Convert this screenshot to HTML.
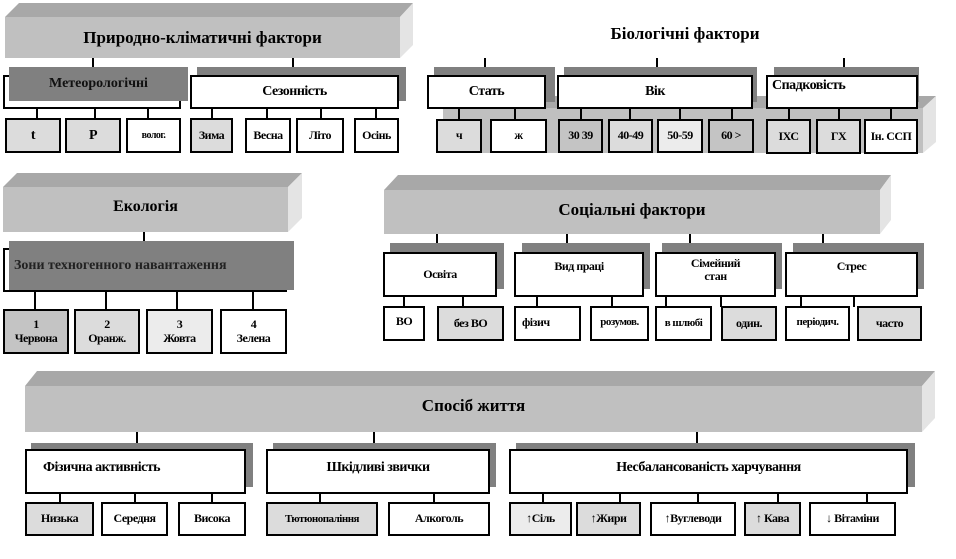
<!DOCTYPE html>
<html><head><meta charset="utf-8"><style>
body{margin:0;width:956px;height:559px;background:#fff;position:relative;overflow:hidden;font-family:"Liberation Serif",serif;font-weight:bold;color:#000}
div{position:absolute;box-sizing:border-box}
.b{border:2px solid #000;background:#fff;display:flex;align-items:center;justify-content:center;font-size:12px;text-align:center;line-height:1.1;letter-spacing:-0.5px}
.g{background:#dcdcdc}.g2{background:#c4c4c4}.g3{background:#ececec}
.sh{background:#808080}
.v{width:2px;background:#000}
.t{font-size:16px;display:flex;align-items:center;justify-content:center}
.m{font-size:14px}
svg{position:absolute;left:0;top:0}
</style></head><body>
<svg width="956" height="559">
<polygon points="5,17 19,3 413,3 400,17" fill="#a8a8a8"/><rect x="5" y="17" width="395" height="41" fill="#c0c0c0"/><polygon points="400,17 413,3 413,45 400,58" fill="#e4e4e4"/>
<polygon points="443,108 455,96 936,96 923,108" fill="#a8a8a8"/><rect x="443" y="108" width="480" height="45" fill="#c0c0c0"/><polygon points="923,108 936,96 936,142 923,153" fill="#e4e4e4"/>
<polygon points="3,187 17,173 302,173 288,187" fill="#a8a8a8"/><rect x="3" y="187" width="285" height="45" fill="#c0c0c0"/><polygon points="288,187 302,173 302,218 288,232" fill="#e4e4e4"/>
<polygon points="384,190 398,175 891,175 880,190" fill="#a8a8a8"/><rect x="384" y="190" width="496" height="44" fill="#c0c0c0"/><polygon points="880,190 891,175 891,220 880,234" fill="#e4e4e4"/>
<polygon points="25,386 37,371 935,371 922,386" fill="#a8a8a8"/><rect x="25" y="386" width="897" height="46" fill="#c0c0c0"/><polygon points="922,386 935,371 935,418 922,432" fill="#e4e4e4"/>
</svg>
<div class="t" style="left:5px;top:17px;width:395px;height:41px;font-size:17px">Природно-кліматичні фактори</div>
<div class="t" style="left:560px;top:20px;width:250px;height:28px;font-size:17px">Біологічні фактори</div>
<div class="t" style="left:3px;top:187px;width:285px;height:40px">Екологія</div>
<div class="t" style="left:384px;top:190px;width:496px;height:40px;font-size:17px">Соціальні фактори</div>
<div class="t" style="left:25px;top:386px;width:897px;height:40px;font-size:17px">Спосіб життя</div>

<div class="v" style="left:92px;top:58px;height:10px"></div><div class="v" style="left:292px;top:58px;height:10px"></div>
<div class="v" style="left:484px;top:58px;height:10px"></div><div class="v" style="left:656px;top:58px;height:10px"></div><div class="v" style="left:843px;top:58px;height:10px"></div>
<div class="v" style="left:143px;top:232px;height:10px"></div>
<div class="v" style="left:436px;top:234px;height:10px"></div><div class="v" style="left:566px;top:234px;height:10px"></div><div class="v" style="left:689px;top:234px;height:10px"></div><div class="v" style="left:822px;top:234px;height:10px"></div>
<div class="v" style="left:136px;top:432px;height:12px"></div><div class="v" style="left:373px;top:432px;height:12px"></div><div class="v" style="left:696px;top:432px;height:12px"></div>

<div class="b" style="left:3px;top:75px;width:178px;height:34px"></div>
<div class="sh t m" style="left:9px;top:67px;width:179px;height:34px;color:#111">Метеорологічні</div>
<div class="sh" style="left:197px;top:67px;width:209px;height:34px"></div>
<div class="b m" style="left:190px;top:75px;width:209px;height:34px">Сезонність</div>
<div class="v" style="left:36px;top:108px;height:11px"></div><div class="v" style="left:94px;top:108px;height:11px"></div><div class="v" style="left:147px;top:108px;height:11px"></div>
<div class="v" style="left:211px;top:108px;height:11px"></div><div class="v" style="left:266px;top:108px;height:11px"></div><div class="v" style="left:320px;top:108px;height:11px"></div><div class="v" style="left:375px;top:108px;height:11px"></div>
<div class="b g" style="left:5px;top:118px;width:56px;height:35px;font-size:14px">t</div>
<div class="b g" style="left:65px;top:118px;width:56px;height:35px;font-size:14px">P</div>
<div class="b" style="left:126px;top:118px;width:55px;height:35px;font-size:10px">волог.</div>
<div class="b g" style="left:190px;top:118px;width:43px;height:35px">Зима</div>
<div class="b" style="left:245px;top:118px;width:46px;height:35px">Весна</div>
<div class="b" style="left:296px;top:118px;width:48px;height:35px">Літо</div>
<div class="b" style="left:354px;top:118px;width:45px;height:35px">Осінь</div>

<div class="sh" style="left:434px;top:67px;width:121px;height:35px"></div>
<div class="b m" style="left:427px;top:75px;width:119px;height:34px">Стать</div>
<div class="sh" style="left:564px;top:67px;width:193px;height:35px"></div>
<div class="b m" style="left:557px;top:75px;width:196px;height:34px">Вік</div>
<div class="sh" style="left:774px;top:67px;width:145px;height:35px"></div>
<div class="b m" style="left:766px;top:75px;width:152px;height:34px;align-items:flex-start;justify-content:flex-start;padding:1px 4px">Спадковість</div>
<div class="v" style="left:458px;top:108px;height:11px"></div><div class="v" style="left:514px;top:108px;height:11px"></div>
<div class="v" style="left:580px;top:108px;height:11px"></div><div class="v" style="left:629px;top:108px;height:11px"></div><div class="v" style="left:679px;top:108px;height:11px"></div><div class="v" style="left:731px;top:108px;height:11px"></div>
<div class="v" style="left:788px;top:108px;height:11px"></div><div class="v" style="left:838px;top:108px;height:11px"></div><div class="v" style="left:890px;top:108px;height:11px"></div>
<div class="b g" style="left:436px;top:119px;width:46px;height:34px">ч</div>
<div class="b" style="left:490px;top:119px;width:57px;height:34px">ж</div>
<div class="b g2" style="left:558px;top:119px;width:45px;height:34px">30 39</div>
<div class="b g" style="left:608px;top:119px;width:45px;height:34px">40-49</div>
<div class="b g3" style="left:657px;top:119px;width:46px;height:34px">50-59</div>
<div class="b g2" style="left:708px;top:119px;width:46px;height:34px">60 &gt;</div>
<div class="b g" style="left:766px;top:119px;width:45px;height:35px">ІХС</div>
<div class="b g" style="left:816px;top:119px;width:45px;height:35px">ГХ</div>
<div class="b" style="left:864px;top:119px;width:54px;height:35px">Ін. ССП</div>

<div class="b" style="left:3px;top:248px;width:284px;height:44px"></div>
<div class="sh m" style="left:9px;top:241px;width:285px;height:49px;display:flex;align-items:center;padding-left:5px;color:#222">Зони техногенного навантаження</div>
<div class="v" style="left:34px;top:291px;height:19px"></div><div class="v" style="left:105px;top:291px;height:19px"></div><div class="v" style="left:176px;top:291px;height:19px"></div><div class="v" style="left:252px;top:291px;height:19px"></div>
<div class="b g2" style="left:3px;top:309px;width:66px;height:45px">1<br>Червона</div>
<div class="b g" style="left:74px;top:309px;width:66px;height:45px">2<br>Оранж.</div>
<div class="b g3" style="left:146px;top:309px;width:67px;height:45px">3<br>Жовта</div>
<div class="b" style="left:220px;top:309px;width:67px;height:45px">4<br>Зелена</div>

<div class="sh" style="left:390px;top:243px;width:114px;height:46px"></div><div class="b" style="left:383px;top:252px;width:114px;height:45px">Освіта</div>
<div class="sh" style="left:522px;top:243px;width:128px;height:46px"></div><div class="b" style="left:514px;top:252px;width:130px;height:45px;align-items:flex-start;padding-top:6px">Вид праці</div>
<div class="sh" style="left:662px;top:243px;width:120px;height:46px"></div><div class="b" style="left:655px;top:252px;width:121px;height:45px;align-items:flex-start;padding-top:3px">Сімейний<br>стан</div>
<div class="sh" style="left:793px;top:243px;width:131px;height:46px"></div><div class="b" style="left:785px;top:252px;width:133px;height:45px;align-items:flex-start;padding-top:6px">Стрес</div>
<div class="v" style="left:403px;top:296px;height:11px"></div><div class="v" style="left:462px;top:296px;height:11px"></div>
<div class="v" style="left:536px;top:296px;height:11px"></div><div class="v" style="left:611px;top:296px;height:11px"></div>
<div class="v" style="left:665px;top:296px;height:11px"></div><div class="v" style="left:720px;top:296px;height:11px"></div>
<div class="v" style="left:800px;top:296px;height:11px"></div><div class="v" style="left:853px;top:296px;height:11px"></div>
<div class="b" style="left:383px;top:306px;width:42px;height:35px;align-items:flex-start;padding-top:7px">ВО</div>
<div class="b g" style="left:437px;top:306px;width:67px;height:35px">без ВО</div>
<div class="b" style="left:514px;top:306px;width:67px;height:35px;justify-content:flex-start;padding-left:6px;align-items:flex-start;padding-top:8px">фізич</div>
<div class="b" style="left:590px;top:306px;width:59px;height:35px;align-items:flex-start;padding-top:8px;font-size:11px">розумов.</div>
<div class="b" style="left:655px;top:306px;width:57px;height:35px;font-size:11px">в шлюбі</div>
<div class="b g" style="left:721px;top:306px;width:56px;height:35px">один.</div>
<div class="b" style="left:785px;top:306px;width:65px;height:35px;align-items:flex-start;padding-top:8px;font-size:11px">періодич.</div>
<div class="b g" style="left:857px;top:306px;width:65px;height:35px">часто</div>

<div class="sh" style="left:31px;top:443px;width:222px;height:44px"></div><div class="b m" style="left:25px;top:449px;width:221px;height:45px;justify-content:flex-start;padding-left:16px;align-items:flex-start;padding-top:9px">Фізична активність</div>
<div class="sh" style="left:273px;top:443px;width:223px;height:44px"></div><div class="b m" style="left:266px;top:449px;width:224px;height:45px;align-items:flex-start;padding-top:9px">Шкідливі звички</div>
<div class="sh" style="left:516px;top:443px;width:399px;height:44px"></div><div class="b m" style="left:509px;top:449px;width:399px;height:45px;align-items:flex-start;padding-top:9px">Несбалансованість харчування</div>
<div class="v" style="left:59px;top:493px;height:10px"></div><div class="v" style="left:134px;top:493px;height:10px"></div><div class="v" style="left:211px;top:493px;height:10px"></div>
<div class="v" style="left:319px;top:493px;height:10px"></div><div class="v" style="left:433px;top:493px;height:10px"></div>
<div class="v" style="left:542px;top:493px;height:10px"></div><div class="v" style="left:619px;top:493px;height:10px"></div><div class="v" style="left:697px;top:493px;height:10px"></div><div class="v" style="left:777px;top:493px;height:10px"></div><div class="v" style="left:866px;top:493px;height:10px"></div>
<div class="b g" style="left:25px;top:502px;width:69px;height:34px">Низька</div>
<div class="b" style="left:101px;top:502px;width:67px;height:34px">Середня</div>
<div class="b" style="left:178px;top:502px;width:68px;height:34px">Висока</div>
<div class="b g" style="left:266px;top:502px;width:112px;height:34px;font-size:11px">Тютюнопаління</div>
<div class="b" style="left:388px;top:502px;width:102px;height:34px">Алкоголь</div>
<div class="b g3" style="left:509px;top:502px;width:63px;height:34px">↑Сіль</div>
<div class="b g" style="left:576px;top:502px;width:65px;height:34px">↑Жири</div>
<div class="b" style="left:650px;top:502px;width:86px;height:34px">↑Вуглеводи</div>
<div class="b g" style="left:744px;top:502px;width:57px;height:34px">↑ Кава</div>
<div class="b" style="left:809px;top:502px;width:87px;height:34px">↓ Вітаміни</div>
</body></html>
